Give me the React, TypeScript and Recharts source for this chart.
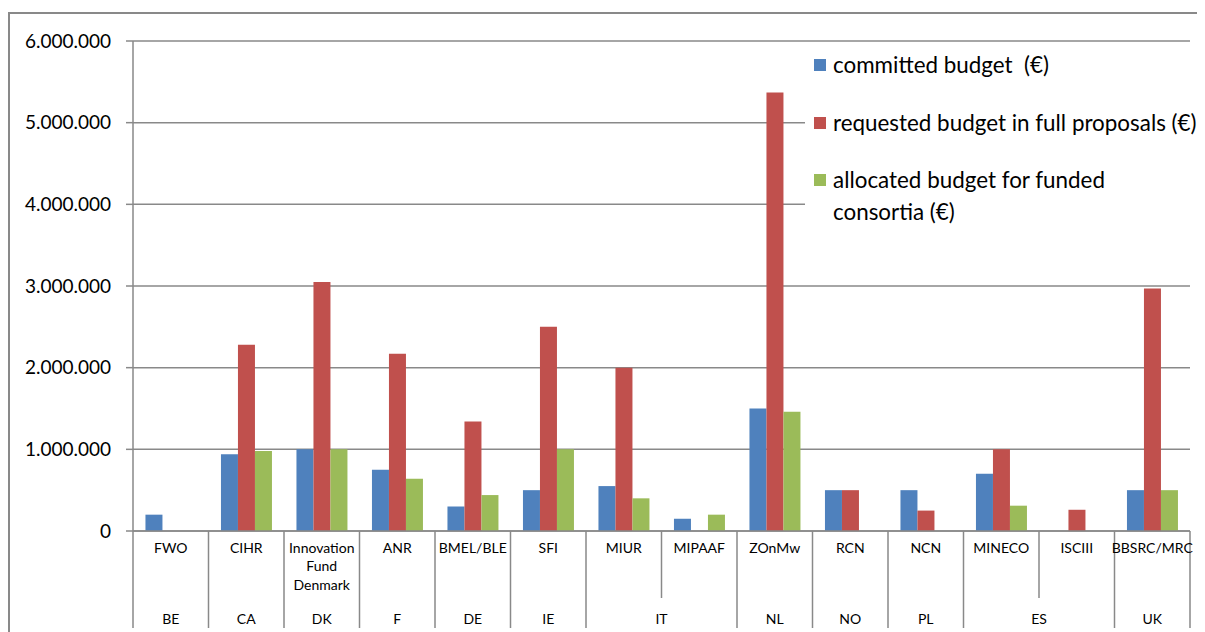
import React from 'react';
import { BarChart, Bar, XAxis, YAxis, CartesianGrid, Legend, Text } from 'recharts';

const organisations = ['FWO', 'CIHR', 'Innovation Fund Denmark', 'ANR', 'BMEL/BLE', 'SFI', 'MIUR', 'MIPAAF', 'ZOnMw', 'RCN', 'NCN', 'MINECO', 'ISCIII', 'BBSRC/MRC'];
const countries = ['BE', 'CA', 'DK', 'F', 'DE', 'IE', 'IT', 'IT', 'NL', 'NO', 'PL', 'ES', 'ES', 'UK'];
const committedBudget = [200000, 940000, 1000000, 750000, 300000, 500000, 550000, 150000, 1500000, 500000, 500000, 700000, 0, 500000];
const requestedBudget = [0, 2280000, 3050000, 2170000, 1340000, 2500000, 2000000, 0, 5370000, 500000, 250000, 1000000, 260000, 2970000];
const allocatedBudget = [0, 980000, 1000000, 640000, 440000, 1000000, 400000, 200000, 1460000, 0, 0, 310000, 0, 500000];
const yTicks = [0, 1000000, 2000000, 3000000, 4000000, 5000000, 6000000];
const seriesNames = ['committed budget  (€)', 'requested budget in full proposals (€)', 'allocated budget for funded consortia (€)'];
const seriesColors = ['#4F81BD', '#C0504D', '#9BBB59'];

const data = organisations.map((name, i) => ({
  name,
  country: countries[i],
  committed: committedBudget[i],
  requested: requestedBudget[i],
  allocated: allocatedBudget[i],
}));

const FONT = 'Lato, "Open Sans", sans-serif';
const AXIS_COLOR = '#898989';
const CHART_W = 1197;
const CHART_H = 624;
const MARGIN = { top: 33, right: 15, bottom: 0, left: 0 };
const Y_AXIS_W = 125;
const PLOT_W = CHART_W - MARGIN.right - MARGIN.left - Y_AXIS_W;
const BAND = PLOT_W / organisations.length;

const formatThousands = (v: number) => String(v).replace(/\B(?=(\d{3})+(?!\d))/g, '.');

function CategoryTick(props: any) {
  const { x, y, payload } = props;
  const i: number = payload && payload.index != null ? payload.index : props.index;
  const n = organisations.length;
  const left = x - BAND / 2;
  const right = x + BAND / 2;
  const groupStart = i === 0 || countries[i] !== countries[i - 1];
  let groupLen = 1;
  while (i + groupLen < n && countries[i + groupLen] === countries[i]) groupLen++;
  return (
    <g>
      <line x1={left} x2={left} y1={y} y2={y + (groupStart ? 97 : 67)} stroke={AXIS_COLOR} strokeWidth={1.5} />
      {i === n - 1 && (
        <line x1={right} x2={right} y1={y} y2={y + 97} stroke={AXIS_COLOR} strokeWidth={1.5} />
      )}
      <Text
        x={x}
        y={y + 12}
        width={72}
        textAnchor="middle"
        verticalAnchor="start"
        lineHeight={18.5}
        fontSize={14}
        fontFamily={FONT}
        fill="#000"
      >
        {payload.value}
      </Text>
      {groupStart && (
        <text
          x={left + (groupLen * BAND) / 2}
          y={y + 87}
          textAnchor="middle"
          dominantBaseline="central"
          fontSize={14}
          fontFamily={FONT}
          fill="#000"
        >
          {countries[i]}
        </text>
      )}
    </g>
  );
}

function renderLegend(props: any) {
  const payload = [...(props.payload || [])].sort(
    (a: any, b: any) => seriesNames.indexOf(a.value) - seriesNames.indexOf(b.value)
  );
  return (
    <div style={{ background: '#fff', padding: '4px 0 12px 9px', fontFamily: FONT, fontSize: 22.4, color: '#000' }}>
      {payload.map((entry: any, idx: number) => (
        <div
          key={idx}
          style={{ display: 'flex', alignItems: 'flex-start', marginBottom: idx < payload.length - 1 ? 25.5 : 0 }}
        >
          <span style={{ width: 12, height: 12, background: entry.color, marginTop: 10, marginRight: 7, flex: 'none' }} />
          <span style={{ lineHeight: '32px', width: 366, whiteSpace: 'pre-wrap' }}>{entry.value}</span>
        </div>
      ))}
    </div>
  );
}

export default function App() {
  return (
    <div style={{ position: 'relative', width: CHART_W, height: CHART_H, overflow: 'hidden' }}>
      <div
        style={{
          position: 'absolute',
          left: 0,
          top: 4,
          width: 1400,
          height: 1000,
          borderLeft: `2px solid ${AXIS_COLOR}`,
          borderTop: `2px solid ${AXIS_COLOR}`,
        }}
      />
      <BarChart
        width={CHART_W}
        height={CHART_H}
        data={data}
        margin={MARGIN}
        barCategoryGap="16.5%"
        barGap={0}
      >
        <CartesianGrid vertical={false} stroke={AXIS_COLOR} strokeWidth={1.5} />
        <XAxis
          dataKey="name"
          interval={0}
          height={CHART_H - MARGIN.top - 490}
          tickLine={false}
          tickSize={0}
          tickMargin={0}
          axisLine={{ stroke: AXIS_COLOR, strokeWidth: 1.5 }}
          tick={<CategoryTick />}
        />
        <YAxis
          width={Y_AXIS_W}
          domain={[0, 6000000]}
          ticks={yTicks}
          interval={0}
          tickFormatter={formatThousands}
          tickSize={7}
          tickMargin={15}
          axisLine={{ stroke: AXIS_COLOR, strokeWidth: 1.5 }}
          tickLine={{ stroke: AXIS_COLOR, strokeWidth: 1.5 }}
          tick={{ fontSize: 19, fontFamily: FONT, fill: '#000' }}
        />
        <Legend
          layout="vertical"
          align="center"
          verticalAlign="middle"
          itemSorter={null as any}
          wrapperStyle={{ left: 797, top: 37, width: 400 }}
          content={renderLegend}
        />
        <Bar dataKey="committed" name={seriesNames[0]} fill={seriesColors[0]} isAnimationActive={false} />
        <Bar dataKey="requested" name={seriesNames[1]} fill={seriesColors[1]} isAnimationActive={false} />
        <Bar dataKey="allocated" name={seriesNames[2]} fill={seriesColors[2]} isAnimationActive={false} />
      </BarChart>
    </div>
  );
}
